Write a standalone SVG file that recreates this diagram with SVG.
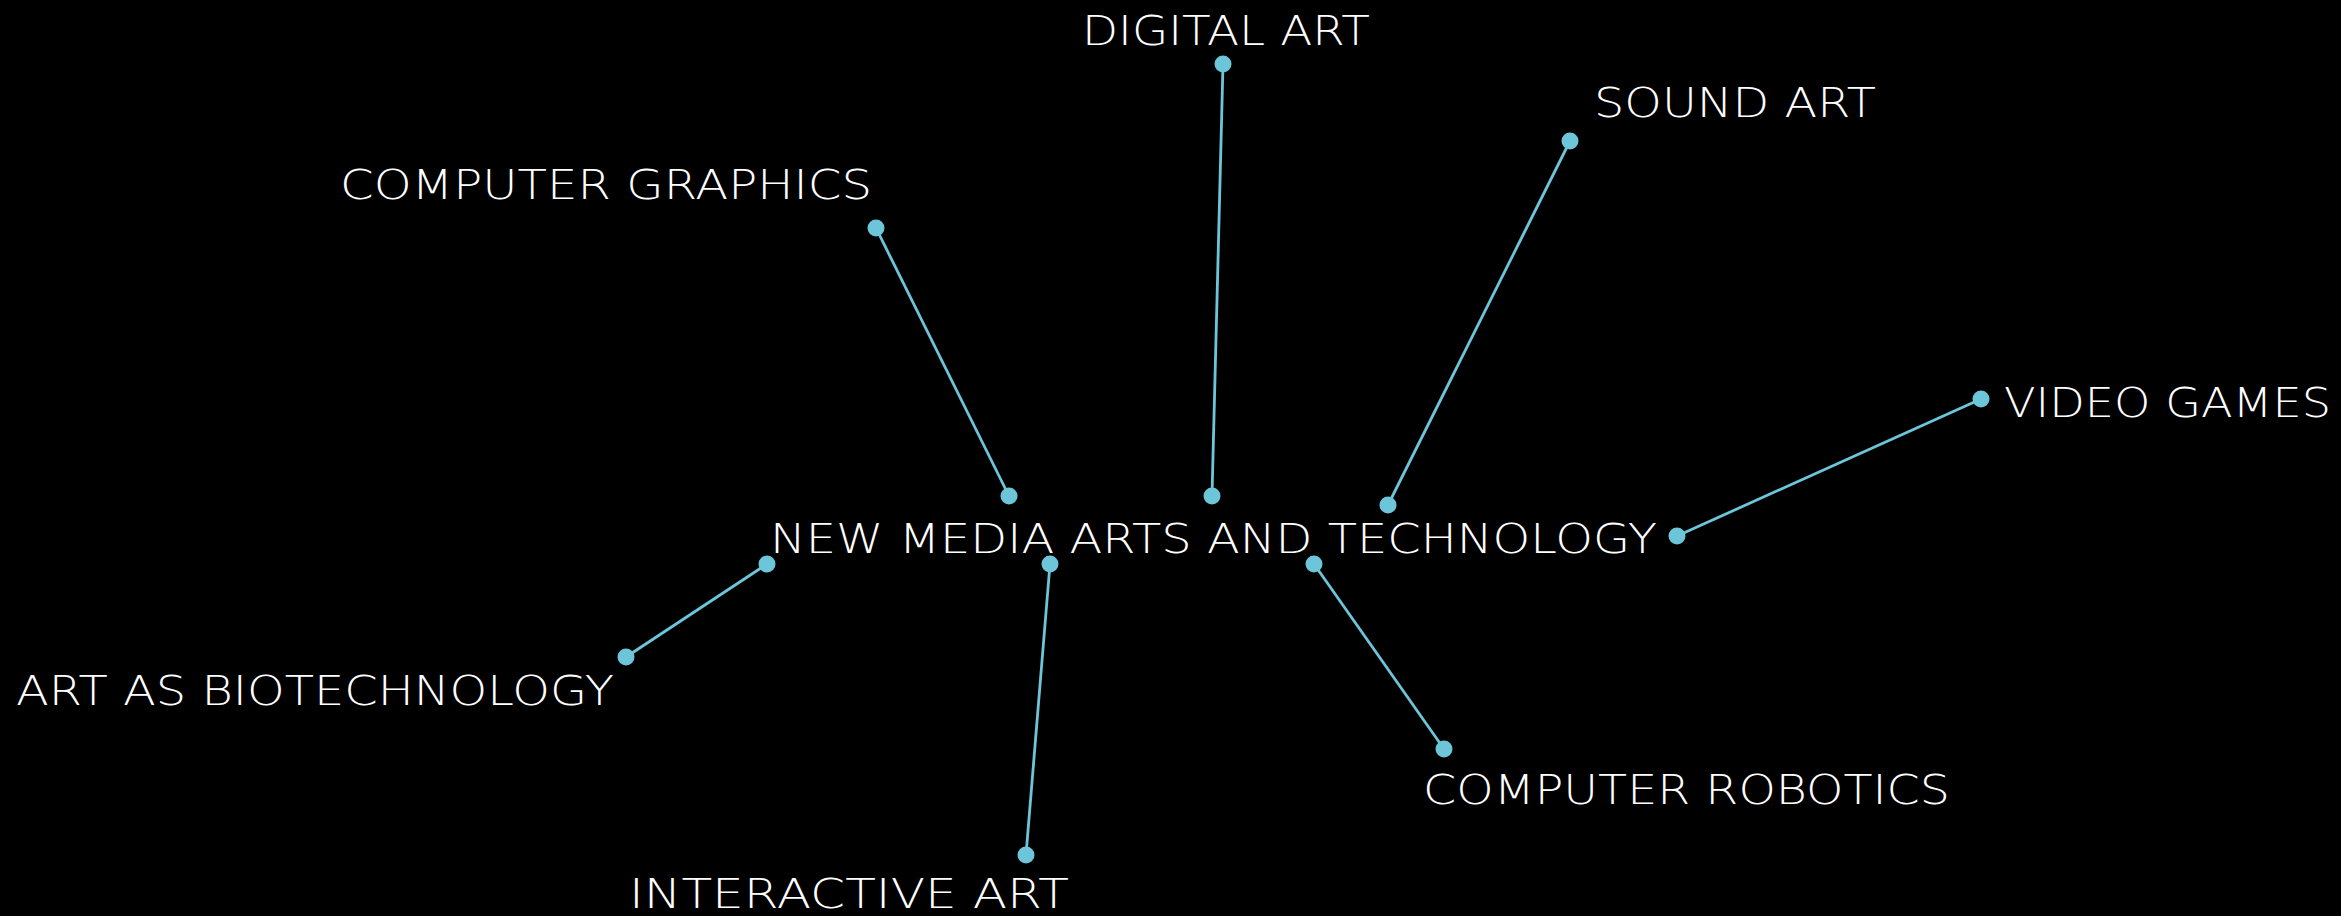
<svg xmlns="http://www.w3.org/2000/svg" width="2341" height="916" viewBox="0 0 2341 916">
<style>
.lbl{font-family:"DejaVu Sans","Liberation Sans",sans-serif;font-size:40px;font-weight:300;fill:#ffffff;}
.ln{stroke:#6cc5d9;stroke-width:2.8;fill:none;}
.dot{fill:#6cc5d9;}
</style>
<rect width="2341" height="916" fill="#000000"/>
<g id="connectors">
<line class="ln" x1="876" y1="228" x2="1009" y2="496"/>
<line class="ln" x1="1223" y1="64" x2="1212" y2="496"/>
<line class="ln" x1="1570" y1="141" x2="1388" y2="505"/>
<line class="ln" x1="1981" y1="399" x2="1677" y2="536"/>
<line class="ln" x1="626" y1="657" x2="767" y2="564"/>
<line class="ln" x1="1026" y1="855" x2="1050" y2="564"/>
<line class="ln" x1="1444" y1="749" x2="1314" y2="564"/>
</g>
<g id="center">
<text class="lbl" x="770" y="553" textLength="887" lengthAdjust="spacingAndGlyphs">NEW MEDIA ARTS AND TECHNOLOGY</text>
<circle class="dot" cx="1009" cy="496" r="8.5"/>
<circle class="dot" cx="1212" cy="496" r="8.5"/>
<circle class="dot" cx="1388" cy="505" r="8.5"/>
<circle class="dot" cx="1677" cy="536" r="8.5"/>
<circle class="dot" cx="767" cy="564" r="8.5"/>
<circle class="dot" cx="1050" cy="564" r="8.5"/>
<circle class="dot" cx="1314" cy="564" r="8.5"/>
</g>
<g id="computer-graphics">
<text class="lbl" x="340" y="199" textLength="532" lengthAdjust="spacingAndGlyphs">COMPUTER GRAPHICS</text>
<circle class="dot" cx="876" cy="228" r="8.5"/>
</g>
<g id="digital-art">
<text class="lbl" x="1082" y="45" textLength="288" lengthAdjust="spacingAndGlyphs">DIGITAL ART</text>
<circle class="dot" cx="1223" cy="64" r="8.5"/>
</g>
<g id="sound-art">
<text class="lbl" x="1594" y="117" textLength="282" lengthAdjust="spacingAndGlyphs">SOUND ART</text>
<circle class="dot" cx="1570" cy="141" r="8.5"/>
</g>
<g id="video-games">
<text class="lbl" x="2004" y="417" textLength="327" lengthAdjust="spacingAndGlyphs">VIDEO GAMES</text>
<circle class="dot" cx="1981" cy="399" r="8.5"/>
</g>
<g id="art-as-biotechnology">
<text class="lbl" x="16" y="705" textLength="598" lengthAdjust="spacingAndGlyphs">ART AS BIOTECHNOLOGY</text>
<circle class="dot" cx="626" cy="657" r="8.5"/>
</g>
<g id="interactive-art">
<text class="lbl" x="629" y="908" textLength="440" lengthAdjust="spacingAndGlyphs">INTERACTIVE ART</text>
<circle class="dot" cx="1026" cy="855" r="8.5"/>
</g>
<g id="computer-robotics">
<text class="lbl" x="1423" y="804" textLength="527" lengthAdjust="spacingAndGlyphs">COMPUTER ROBOTICS</text>
<circle class="dot" cx="1444" cy="749" r="8.5"/>
</g>
</svg>
